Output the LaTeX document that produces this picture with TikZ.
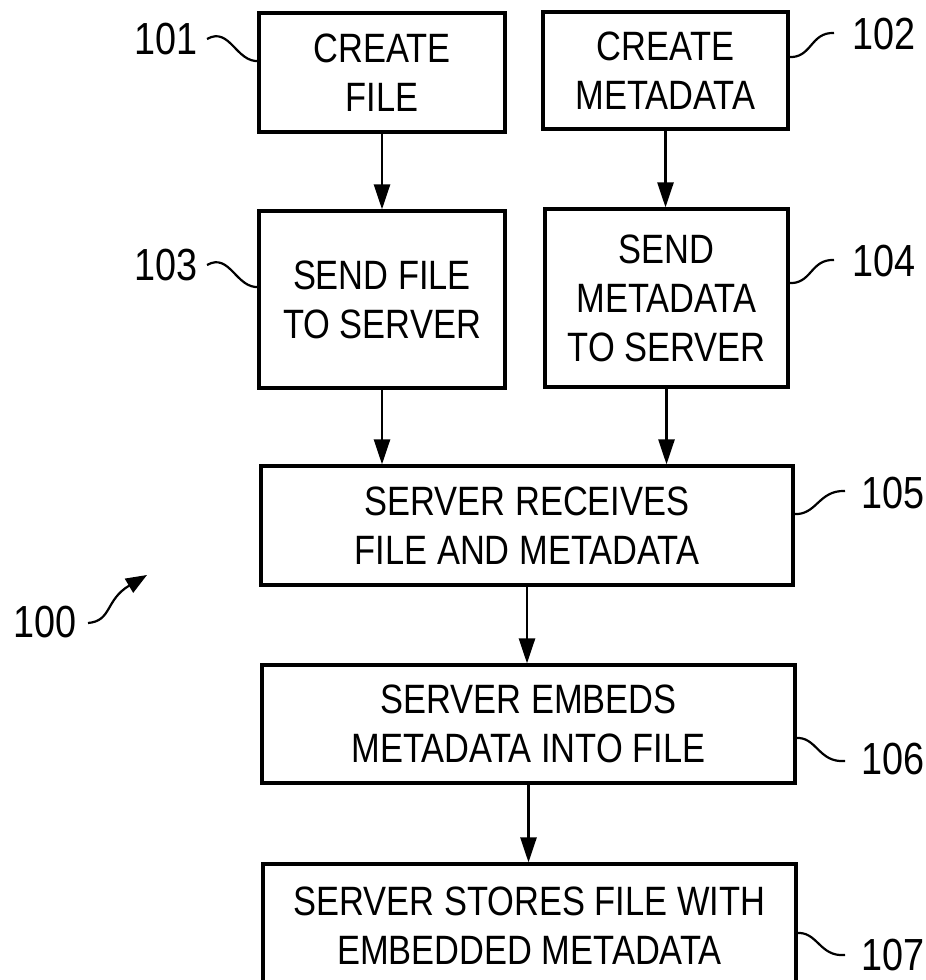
\documentclass[tikz,border=0pt]{standalone}
\usepackage{fontspec}
\setmainfont[FakeStretch=0.84]{Liberation Sans}
\usetikzlibrary{arrows.meta}
\begin{document}
\begin{tikzpicture}[x=1pt,y=-1pt,
  box/.style={draw, line width=3.2pt, rectangle, align=center, inner sep=2pt,
    font=\fontsize{41}{49}\selectfont},
  flow/.style={line width=2.6pt, -{Triangle[width=16pt,length=25pt]}},
  leader/.style={line width=2.2pt},
  reflabel/.style={font=\fontsize{45}{50}\selectfont, inner sep=0pt}]
\useasboundingbox (0,0) rectangle (926,980);
% boxes
\node[box, minimum width=246pt, minimum height=119pt] (b101) at (382,72.5) {CREATE\\FILE};
\node[box, minimum width=245pt, minimum height=117pt] (b102) at (665.5,70.5) {CREATE\\METADATA};
\node[box, minimum width=246pt, minimum height=177pt] (b103) at (382,299.5) {SEND FILE\\TO SERVER};
\node[box, minimum width=243pt, minimum height=178pt] (b104) at (666.5,298) {SEND\\METADATA\\TO SERVER};
\node[box, minimum width=532pt, minimum height=119pt] (b105) at (527,525.5) {SERVER RECEIVES\\FILE AND METADATA};
\node[box, minimum width=533pt, minimum height=118pt] (b106) at (528.5,724) {SERVER EMBEDS\\METADATA INTO FILE};
\node[box, minimum width=533pt, minimum height=124pt] (b107) at (529.5,926) {SERVER STORES FILE WITH\\EMBEDDED METADATA};
% flow arrows
\draw[flow] (b101.south) -- (b103.north);
\draw[flow] (b102.south) -- (b104.north -| b102.south);
\draw[flow] (b103.south) -- (b105.north -| b103.south);
\draw[flow] (b104.south) -- (b105.north -| b104.south);
\draw[flow] (b105.south) -- (b106.north -| b105.south);
\draw[flow] (b106.south) -- (b107.north -| b106.south);
% reference labels
\node[reflabel] (l101) at (166,39) {101};
\node[reflabel] (l103) at (166,265) {103};
\node[reflabel] (l102) at (884,34) {102};
\node[reflabel] (l104) at (884,261) {104};
\node[reflabel] (l105) at (893,493) {105};
\node[reflabel] (l106) at (893,759) {106};
\node[reflabel] (l107) at (893,955) {107};
\node[reflabel] (l100) at (45,622) {100};
% leader coordinates
\coordinate (s101) at (207,39);  \coordinate (e101) at (259,61);
\coordinate (s103) at (207,265); \coordinate (e103) at (259,287);
\coordinate (s102) at (834,33);  \coordinate (e102) at (788,57);
\coordinate (s104) at (834,260); \coordinate (e104) at (788,283);
\coordinate (s105) at (845,491); \coordinate (e105) at (793,514);
\coordinate (s106) at (845,761); \coordinate (e106) at (795,738);
\coordinate (s107) at (845,955); \coordinate (e107) at (796,933);
\coordinate (s100) at (88,623);  \coordinate (t100) at (147,575);
% leaders
\draw[leader] (s101) .. controls (230,26) and (236,63) .. (e101);
\draw[leader] (s103) .. controls (230,252) and (236,289) .. (e103);
\draw[leader] (e102) .. controls (812,59) and (810,32) .. (s102);
\draw[leader] (e104) .. controls (812,285) and (810,259) .. (s104);
\draw[leader] (e105) .. controls (817,516) and (818,490) .. (s105);
\draw[leader] (e106) .. controls (817,736) and (818,763) .. (s106);
\draw[leader] (e107) .. controls (818,931) and (819,957) .. (s107);
\draw[leader, -{Triangle[width=16pt,length=21pt]}] (s100) .. controls (112,621) and (105,600) .. (t100);
\end{tikzpicture}
\end{document}
